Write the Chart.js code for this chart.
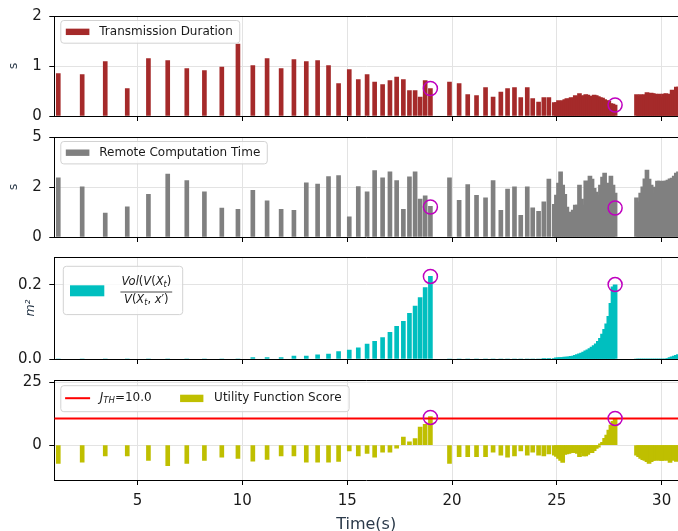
<!DOCTYPE html>
<html>
<head>
<meta charset="utf-8">
<script src="https://cdn.jsdelivr.net/npm/chart.js@4.4.0/dist/chart.umd.min.js"></script>
<style>
html, body { margin: 0; padding: 0; background: #fff; overflow: hidden; width: 678px; height: 531px; }
canvas { position: absolute; left: 0; }
</style>
</head>
<body>
<canvas id="c1" width="678" height="120" style="top:6px"></canvas>
<canvas id="c2" width="678" height="120" style="top:127px"></canvas>
<canvas id="c3" width="678" height="122" style="top:247px"></canvas>
<canvas id="c4" width="678" height="170" style="top:370px"></canvas>
<script>
// time stamps of each offloading event (s)
var times = [
  1.22, 2.36, 3.46, 4.51, 5.52, 6.44, 7.35, 8.19, 9.02, 9.79, 10.50, 11.18, 11.85, 12.46, 13.05, 13.59, 14.11, 14.59,
  15.10, 15.53, 15.95, 16.31, 16.69, 17.04, 17.36, 17.68, 17.97, 18.24, 18.48, 18.72, 18.97,
  19.88, 20.34, 20.75, 21.17, 21.60, 21.96, 22.33, 22.65, 22.98, 23.28, 23.59, 23.85, 24.13, 24.38, 24.62,
  24.88, 24.98, 25.08, 25.18, 25.28, 25.38, 25.48, 25.58, 25.68, 25.78, 25.88, 25.98, 26.08, 26.18, 26.28,
  26.38, 26.48, 26.58, 26.68, 26.78, 26.88, 26.98, 27.08, 27.18, 27.28, 27.38, 27.48, 27.58, 27.68, 27.78,
  28.80, 28.90, 29.00, 29.10, 29.20, 29.30, 29.40, 29.50, 29.60, 29.70, 29.80, 29.90, 30.00, 30.10, 30.20,
  30.30, 30.40, 30.50, 30.60, 30.70, 30.80
];
var transmission = [
  0.85, 0.83, 1.09, 0.55, 1.15, 1.11, 0.95, 0.91, 0.98, 1.44, 1.01, 1.15, 0.95, 1.13, 1.09, 1.11, 1.01, 0.65,
  0.93, 0.73, 0.83, 0.68, 0.63, 0.71, 0.78, 0.73, 0.51, 0.51, 0.38, 0.71, 0.55,
  0.68, 0.65, 0.43, 0.41, 0.57, 0.38, 0.48, 0.55, 0.57, 0.37, 0.57, 0.35, 0.28, 0.37, 0.37,
  0.27, 0.27, 0.31, 0.29, 0.31, 0.33, 0.35, 0.34, 0.37, 0.36, 0.41, 0.39, 0.45, 0.40, 0.41,
  0.43, 0.42, 0.40, 0.37, 0.42, 0.41, 0.39, 0.37, 0.36, 0.33, 0.31, 0.30, 0.25, 0.24, 0.22,
  0.43, 0.40, 0.43, 0.41, 0.43, 0.47, 0.45, 0.46, 0.45, 0.44, 0.43, 0.44, 0.38, 0.44, 0.45,
  0.43, 0.44, 0.52, 0.50, 0.58, 0.58
];
var computation = [
  2.96, 2.51, 1.20, 1.51, 2.13, 3.14, 2.82, 2.26, 1.45, 1.38, 2.33, 1.81, 1.38, 1.33, 2.71, 2.64, 3.02, 3.07,
  1.01, 2.52, 2.26, 3.32, 2.96, 3.26, 2.82, 1.38, 3.01, 3.26, 1.89, 2.06, 1.53,
  2.96, 1.83, 2.62, 2.08, 1.96, 2.82, 1.33, 2.39, 2.51, 1.08, 2.51, 1.46, 1.28, 1.76, 2.89,
  1.63, 2.09, 2.70, 3.26, 2.60, 2.13, 1.50, 1.13, 1.25, 1.35, 1.60, 1.60, 2.59, 1.90, 1.60,
  2.81, 2.60, 3.04, 2.90, 2.43, 2.25, 2.09, 2.60, 3.00, 3.20, 2.70, 2.43, 3.05, 2.60, 2.20,
  1.96, 1.76, 2.20, 2.51, 2.91, 3.34, 2.90, 2.60, 2.20, 2.50, 2.80, 2.80, 2.75, 2.80, 2.80,
  2.85, 2.91, 2.95, 3.05, 3.20, 3.26
];
var volumeRatio = [
  0, 0, 0, 0, 0, 0, 0, 0, 0, 0, 0.0035, 0.004, 0.004, 0.008, 0.008, 0.011, 0.013, 0.020,
  0.024, 0.030, 0.040, 0.048, 0.058, 0.072, 0.088, 0.102, 0.123, 0.143, 0.166, 0.193, 0.223,
  0, 0, 0, 0, 0, 0, 0, 0, 0, 0, 0, 0, 0, 0.002, 0.002,
  0.002, 0.003, 0.003, 0.004, 0.004, 0.005, 0.005, 0.006, 0.007, 0.008, 0.010, 0.012, 0.014, 0.016, 0.019,
  0.022, 0.025, 0.028, 0.032, 0.036, 0.041, 0.048, 0.056, 0.067, 0.080, 0.095, 0.115, 0.150, 0.195, 0.200,
  0, 0, 0, 0, 0, 0, 0, 0, 0, 0, 0, 0, 0, 0, 0,
  0.002, 0.004, 0.006, 0.008, 0.010, 0.012
];
var utility = [
  -7.3, -6.8, -4.3, -4.3, -6.1, -8.2, -7.3, -6.1, -4.8, -5.3, -6.4, -5.7, -4.3, -4.3, -6.8, -6.8, -6.8, -6.5,
  -2.3, -4.3, -3.3, -4.8, -2.8, -2.8, -1.2, 3.2, 1.3, 2.6, 7.2, 8.3, 11.3,
  -7.3, -4.6, -4.6, -4.6, -4.6, -2.8, -4.0, -4.8, -4.3, -2.3, -4.0, -2.8, -4.0, -4.3, -3.5,
  -4.0, -4.5, -5.3, -6.1, -6.9, -3.7, -3.5, -3.3, -3.0, -2.9, -3.0, -3.3, -4.6, -3.0, -4.3,
  -4.3, -3.7, -2.9, -3.0, -2.2, -1.3, -0.8, 0.5, 1.1, 2.7, 4.0, 6.0, 8.0, 9.5, 10.6,
  -4.0, -4.6, -5.3, -5.8, -6.1, -6.6, -7.3, -6.6, -6.1, -6.1, -5.8, -6.1, -6.1, -6.1, -5.5,
  -6.1, -6.9, -5.3, -6.1, -6.5, -6.0
];
// circled decision points
var peakTimes = [18.97, 27.78];
var peakTransmission = [0.55, 0.22];
var peakComputation = [1.5, 1.45];
var peakVolume = [0.223, 0.201];
var peakUtility = [11.0, 10.6];
var threshold = 10.6;

var xTicks = [5, 10, 15, 20, 25, 30];
var xTickLabels = ['5', '10', '15', '20', '25', '30'];
var transTicks = [0, 1, 2], transTickLabels = ['0', '1', '2'];
var compTicks = [0, 2.5, 5], compTickLabels = ['0', '2', '5'];
var volTicks = [0, 0.2], volTickLabels = ['0.0', '0.2'];
var utilTicks = [0, 25], utilTickLabels = ['0', '25'];

var FONT = "'DejaVu Sans', sans-serif";
var X_MIN = 1.03, X_MAX = 30.78;
var GRID = '#e3e3e3';
var LABEL_COLOR = '#2b3a4a';

function points(xs, ys) {
  return xs.map(function (x, i) { return { x: x, y: ys[i] }; });
}

function frameBox(ctx, x, y, w, h) {
  var r = 3;
  ctx.beginPath();
  ctx.moveTo(x + r, y);
  ctx.arcTo(x + w, y, x + w, y + h, r);
  ctx.arcTo(x + w, y + h, x, y + h, r);
  ctx.arcTo(x, y + h, x, y, r);
  ctx.arcTo(x, y, x + w, y, r);
  ctx.closePath();
  ctx.fillStyle = 'rgba(255,255,255,0.8)';
  ctx.fill();
  ctx.strokeStyle = '#d2d2d2';
  ctx.lineWidth = 1;
  ctx.stroke();
}

// runs: [text, size, italic, dy]
function runsWidth(ctx, runs) {
  var w = 0;
  runs.forEach(function (r) {
    ctx.font = (r[2] ? 'italic ' : '') + r[1] + 'px ' + FONT;
    w += ctx.measureText(r[0]).width;
  });
  return w;
}
function drawRuns(ctx, runs, x, y) {
  runs.forEach(function (r) {
    ctx.font = (r[2] ? 'italic ' : '') + r[1] + 'px ' + FONT;
    ctx.fillText(r[0], x, y + (r[3] || 0));
    x += ctx.measureText(r[0]).width;
  });
  return x;
}

function simpleLegend(label, color, h) {
  return function (ctx, a) {
    ctx.font = '12px ' + FONT;
    var fx = a.left + 6.5, fy = a.top + 4.5;
    var tw = ctx.measureText(label).width;
    frameBox(ctx, fx, fy, 38.5 + tw + 7, h);
    ctx.fillStyle = color;
    ctx.fillRect(fx + 5, fy + h / 2 - 3.2, 23.6, 6.4);
    ctx.fillStyle = '#1a1a1a';
    ctx.textBaseline = 'middle';
    ctx.fillText(label, fx + 38.5, fy + h / 2);
  };
}

var legendDrawers = {
  c1: simpleLegend('Transmission Duration', '#a52a2a', 22.7),
  c2: simpleLegend('Remote Computation Time', '#808080', 22.4),
  c3: function (ctx, a) {
    var fx = a.left + 9, fy = a.top + 9.3, w = 119.4, h = 48.3;
    frameBox(ctx, fx, fy, w, h);
    ctx.fillStyle = '#00bfbf';
    ctx.fillRect(fx + 6.7, fy + 19, 34.3, 11);
    ctx.fillStyle = '#1a1a1a';
    ctx.textBaseline = 'middle';
    var num = [['Vol', 11.5, true], ['(', 11.5, false], ['V', 11.5, true], ['(', 11.5, false],
               ['X', 11.5, true], ['t', 8, true, 3], [')', 11.5, false]];
    var den = [['V', 11.5, true], ['(', 11.5, false], ['X', 11.5, true], ['t', 8, true, 3],
               [', ', 11.5, false], ['x', 11.5, true], ['\u2032', 11.5, false], [')', 11.5, false]];
    var cx = fx + 83;
    var nw = runsWidth(ctx, num), dw = runsWidth(ctx, den);
    drawRuns(ctx, num, cx - nw / 2, fy + 15.5);
    drawRuns(ctx, den, cx - dw / 2, fy + 34);
    ctx.strokeStyle = '#1a1a1a';
    ctx.lineWidth = 0.8;
    ctx.beginPath();
    ctx.moveTo(cx - Math.max(nw, dw) / 2 - 1, fy + 25.7);
    ctx.lineTo(cx + Math.max(nw, dw) / 2 + 1, fy + 25.7);
    ctx.stroke();
  },
  c4: function (ctx, a) {
    var fx = a.left + 6.5, fy = a.top + 5.7, w = 288.3, h = 26;
    frameBox(ctx, fx, fy, w, h);
    ctx.strokeStyle = '#ff0000';
    ctx.lineWidth = 2;
    ctx.beginPath();
    ctx.moveTo(fx + 4.3, fy + 12.5);
    ctx.lineTo(fx + 29.3, fy + 12.5);
    ctx.stroke();
    ctx.fillStyle = '#1a1a1a';
    ctx.textBaseline = 'middle';
    drawRuns(ctx, [['J', 12, true], ['TH', 8.5, true, 3], ['=10.0', 12, false]], fx + 39, fy + 12.5);
    ctx.fillStyle = '#bfbf00';
    ctx.fillRect(fx + 119.3, fy + 9, 23.3, 7.4);
    ctx.fillStyle = '#1a1a1a';
    ctx.font = '12px ' + FONT;
    ctx.fillText('Utility Function Score', fx + 153.3, fy + 12.5);
  }
};

var framePlugin = {
  id: 'frame',
  afterDraw: function (chart) {
    var a = chart.chartArea, ctx = chart.ctx;
    ctx.save();
    ctx.strokeStyle = '#000';
    ctx.lineWidth = 1;
    ctx.beginPath();
    ctx.moveTo(a.left, Math.round(a.top) + 0.5);
    ctx.lineTo(a.right, Math.round(a.top) + 0.5);
    ctx.stroke();
    var draw = legendDrawers[chart.canvas.id];
    if (draw) draw(ctx, a);
    ctx.restore();
  }
};

function noOverhang(s) {
  s.paddingTop = 0; s.paddingBottom = 0; s.paddingLeft = 0; s.paddingRight = 0;
}

function makePanel(id, p) {
  var datasets = [{
    type: 'bar',
    data: points(times, p.values),
    backgroundColor: p.color,
    borderWidth: 0,
    barThickness: 4,
    grouped: false,
    order: 3
  }, {
    type: 'scatter',
    data: points(peakTimes, p.peaks),
    borderColor: '#bf00bf',
    backgroundColor: 'rgba(0,0,0,0)',
    borderWidth: 1.5,
    pointRadius: 7,
    order: 0
  }];
  if (p.extra) datasets.push(p.extra);
  return new Chart(document.getElementById(id), {
    type: 'bar',
    data: { datasets: datasets },
    options: {
      responsive: false,
      animation: false,
      devicePixelRatio: 1,
      layout: { autoPadding: false, padding: { top: 10, right: 0, bottom: 0, left: 0 } },
      plugins: { legend: { display: false }, tooltip: { enabled: false } },
      scales: {
        x: {
          type: 'linear', min: X_MIN, max: X_MAX, offset: false,
          afterBuildTicks: function (s) { s.ticks = xTicks.map(function (v) { return { value: v }; }); },
          afterFit: function (s) { s.height = p.xHeight; noOverhang(s); },
          grid: { offset: false, color: GRID, lineWidth: 1, drawTicks: true, tickLength: 5, tickColor: '#000', tickWidth: 1 },
          border: { display: true, color: '#000', width: 1 },
          ticks: {
            display: !!p.xTitle, autoSkip: false, maxRotation: 0, padding: 7,
            font: { size: 15, family: FONT }, color: '#1a1a1a',
            callback: function (v, i) { return xTickLabels[i]; }
          },
          title: {
            display: !!p.xTitle, text: p.xTitle || '', color: LABEL_COLOR,
            font: { size: 16, family: FONT, lineHeight: 1.2 }, padding: { top: 0, bottom: 6 }
          }
        },
        y: {
          min: p.min, max: p.max,
          afterBuildTicks: function (s) { s.ticks = p.ticks.map(function (v) { return { value: v }; }); },
          afterFit: function (s) { s.width = 54.3; noOverhang(s); },
          grid: { color: GRID, lineWidth: 1, drawTicks: true, tickLength: 5, tickColor: '#000', tickWidth: 1 },
          border: { display: true, color: '#000', width: 1 },
          ticks: {
            autoSkip: false, padding: 7.5,
            font: { size: 15, family: FONT }, color: '#1a1a1a',
            callback: function (v, i) { return p.tickLabels[i]; }
          },
          title: {
            display: !!p.yTitle, text: p.yTitle || '', color: LABEL_COLOR,
            font: { size: 12.5, family: FONT, style: p.yItalic ? 'italic' : 'normal', lineHeight: 1.2 },
            padding: { top: p.yTitlePad || 0, bottom: 0 }
          }
        }
      }
    },
    plugins: [framePlugin]
  });
}

makePanel('c1', {
  values: transmission, peaks: peakTransmission, color: '#a52a2a',
  min: 0, max: 2, ticks: transTicks, tickLabels: transTickLabels,
  yTitle: 's', yTitlePad: 6, xHeight: 10
});
makePanel('c2', {
  values: computation, peaks: peakComputation, color: '#808080',
  min: 0, max: 5, ticks: compTicks, tickLabels: compTickLabels,
  yTitle: 's', yTitlePad: 6, xHeight: 10
});
makePanel('c3', {
  values: volumeRatio, peaks: peakVolume, color: '#00bfbf',
  min: 0, max: 0.2754, ticks: volTicks, tickLabels: volTickLabels,
  yTitle: 'm\u00b2', yItalic: true, yTitlePad: 23.5, xHeight: 10
});
makePanel('c4', {
  values: utility, peaks: peakUtility, color: '#bfbf00',
  min: -13.9, max: 25.9, ticks: utilTicks, tickLabels: utilTickLabels,
  xHeight: 60, xTitle: 'Time(s)',
  extra: {
    type: 'line',
    data: points([X_MIN, X_MAX], [threshold, threshold]),
    borderColor: '#ff0000',
    borderWidth: 2,
    pointRadius: 0,
    order: 1
  }
});
</script>
</body>
</html>
